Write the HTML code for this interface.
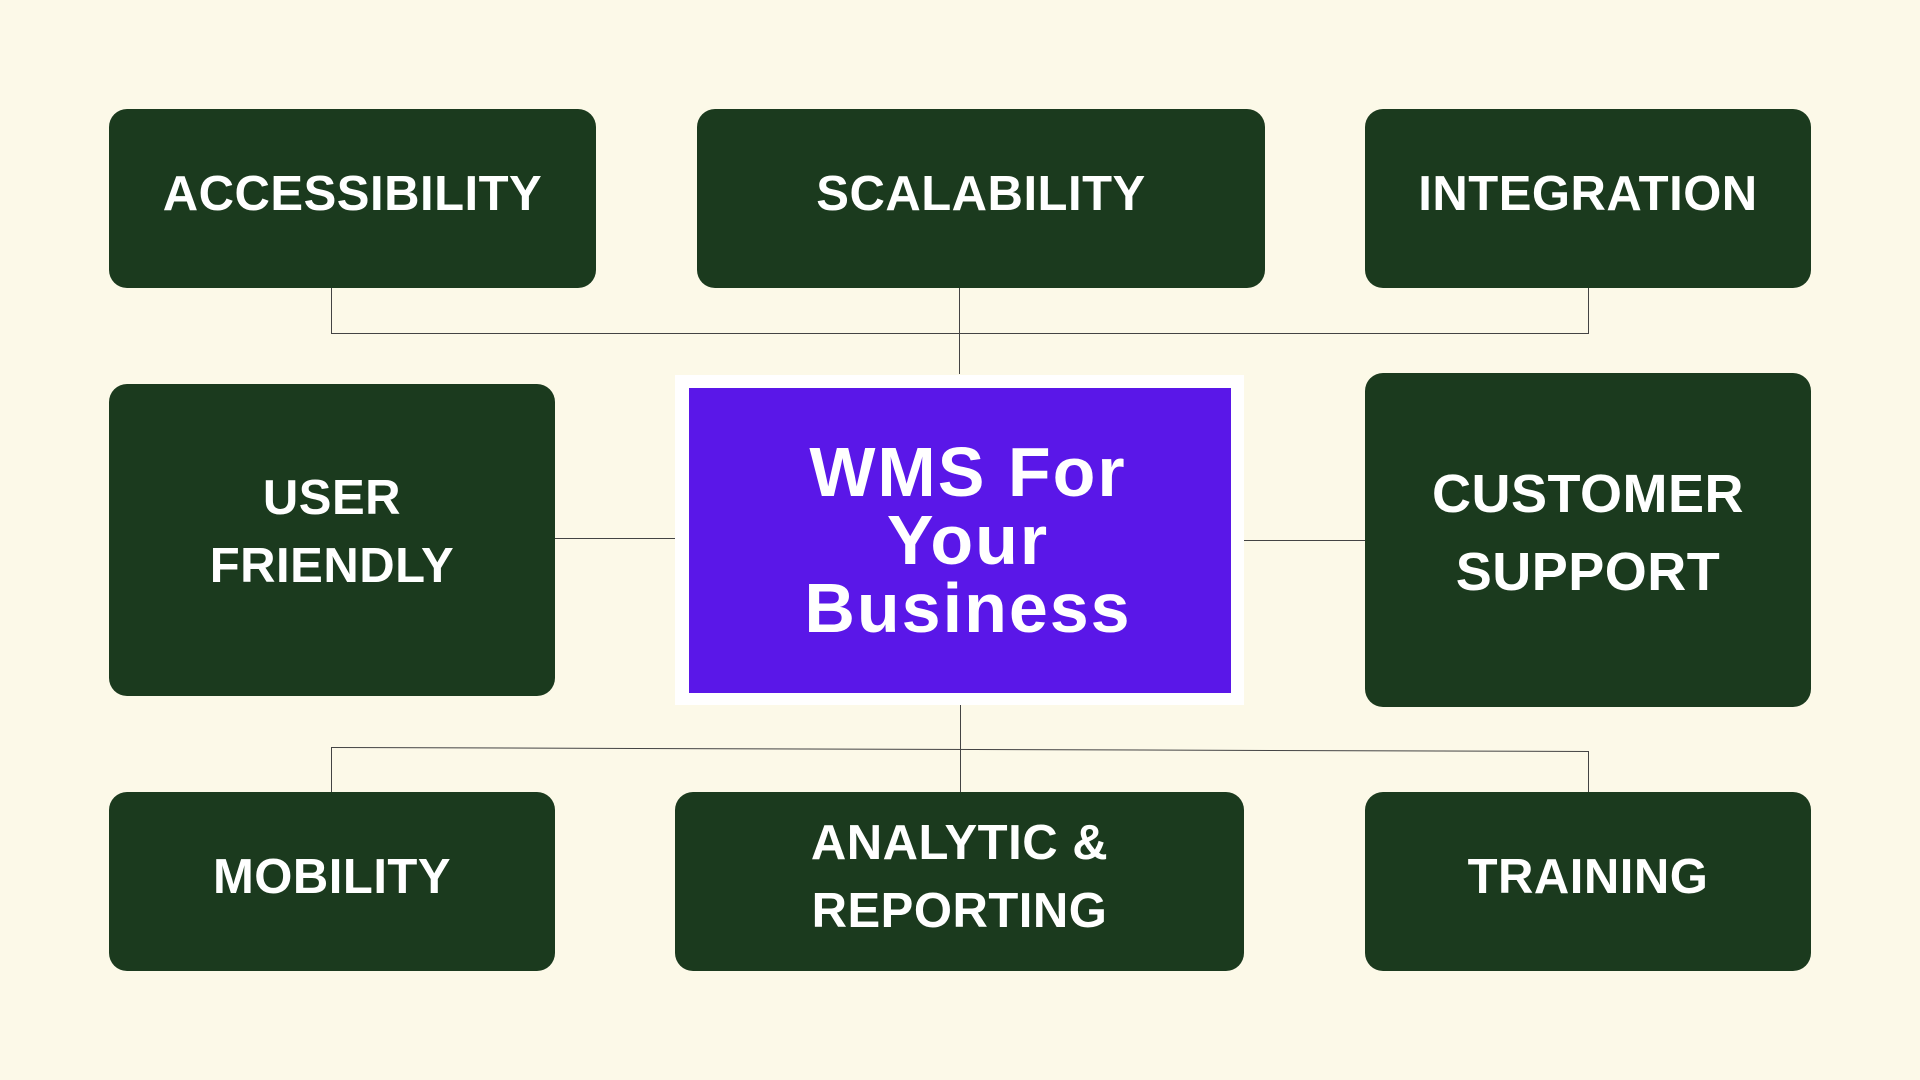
<!DOCTYPE html>
<html><head><meta charset="utf-8"><style>
body{margin:0;width:1920px;height:1080px;background:#fcf9e8;position:relative;overflow:hidden;font-family:"Liberation Sans",sans-serif;}
.b{position:absolute;background:#1b3a1e;border-radius:18px;color:#fff;font-weight:bold;font-size:49px;display:flex;align-items:center;justify-content:center;text-align:center;line-height:68px;letter-spacing:0.5px;}
.b span{position:relative;top:-5px}
.l{position:absolute;background:#444;}
</style></head><body>
<div class="l" style="left:331px;top:288px;width:1px;height:46px"></div>
<div class="l" style="left:959px;top:288px;width:1px;height:86px"></div>
<div class="l" style="left:1588px;top:288px;width:1px;height:46px"></div>
<div class="l" style="left:331px;top:333px;width:1258px;height:1px"></div>
<div class="l" style="left:555px;top:538px;width:120px;height:1px"></div>
<div class="l" style="left:1244px;top:540px;width:121px;height:1px"></div>
<div class="l" style="left:331px;top:747px;width:1258px;height:1px;transform:rotate(0.18deg);transform-origin:left"></div>
<div class="l" style="left:331px;top:747px;width:1px;height:45px"></div>
<div class="l" style="left:960px;top:705px;width:1px;height:87px"></div>
<div class="l" style="left:1588px;top:751px;width:1px;height:41px"></div>

<div class="b" style="left:109px;top:109px;width:487px;height:179px"><span>ACCESSIBILITY</span></div>
<div class="b" style="left:697px;top:109px;width:568px;height:179px"><span>SCALABILITY</span></div>
<div class="b" style="left:1365px;top:109px;width:446px;height:179px"><span>INTEGRATION</span></div>
<div class="b" style="left:109px;top:384px;width:446px;height:312px"><span style="top:-8px">USER<br>FRIENDLY</span></div>
<div class="b" style="left:1365px;top:373px;width:446px;height:334px;font-size:54px;line-height:78px"><span style="top:-7px">CUSTOMER<br>SUPPORT</span></div>
<div class="b" style="left:109px;top:792px;width:446px;height:179px"><span>MOBILITY</span></div>
<div class="b" style="left:675px;top:792px;width:569px;height:179px"><span>ANALYTIC &amp;<br>REPORTING</span></div>
<div class="b" style="left:1365px;top:792px;width:446px;height:179px"><span>TRAINING</span></div>

<div style="position:absolute;left:675px;top:375px;width:569px;height:330px;background:#fff"></div>
<div style="position:absolute;left:689px;top:388px;width:542px;height:305px;background:#5a17e8;color:#fff;font-weight:900;font-size:70px;line-height:68px;text-align:center;display:flex;align-items:center;justify-content:center;letter-spacing:2px"><div style="margin-top:-2px;margin-left:16px">WMS For<br>Your<br>Business</div></div>
</body></html>
